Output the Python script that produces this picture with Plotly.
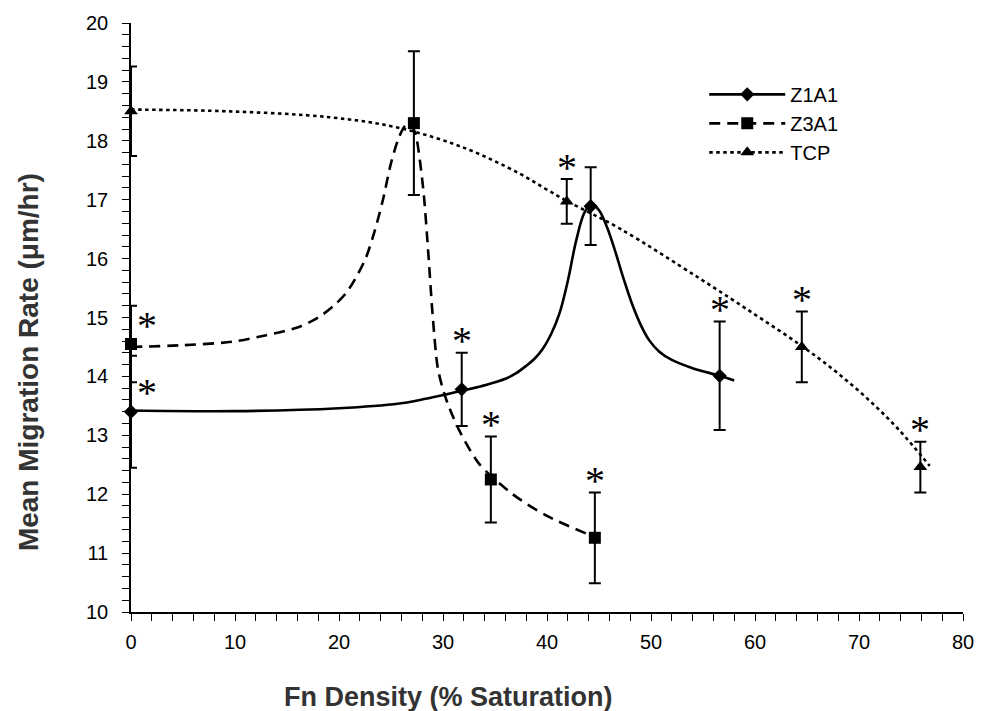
import plotly.graph_objects as go

# ---- measured data points (mean ± SD) ----
z1_x = [0, 31.8, 44.2, 56.6]
z1_y = [13.40, 13.78, 16.89, 14.01]
z1_err = [0.95, 0.62, 0.66, 0.92]

z3_x = [0, 27.2, 34.6, 44.6]
z3_y = [14.55, 18.30, 12.25, 11.26]
z3_err = [0.65, 1.22, 0.73, 0.77]

tcp_x = [0, 41.9, 64.5, 75.9]
tcp_y = [18.50, 16.97, 14.50, 12.46]
tcp_err = [0.76, 0.38, 0.60, 0.43]

# significance flags (asterisk shown)
z1_sig = [True, True, False, True]
z3_sig = [True, False, True, True]
tcp_sig = [False, True, True, True]

# ---- fitted trend curves ----
z1_cx = [0, 10, 20, 25.8, 27.8, 29.7, 31.9, 34.2, 36.0, 37.0, 38.0, 38.8, 39.6, 40.4,
         41.2, 42.0, 42.8, 43.6, 44.3, 45.0, 45.8, 46.6, 47.4, 48.2, 49.0, 49.8, 50.8,
         52.0, 54.0, 56.6, 58.0]
z1_cy = [13.42, 13.41, 13.46, 13.54, 13.60, 13.67, 13.76, 13.86, 13.96, 14.05, 14.18,
         14.30, 14.47, 14.72, 15.07, 15.62, 16.30, 16.78, 16.92, 16.82, 16.52, 16.10,
         15.64, 15.22, 14.88, 14.62, 14.42, 14.28, 14.14, 14.01, 13.93]

z3_cx = [0, 5, 9.8, 13, 16.0, 18.0, 19.5, 20.7, 21.7, 22.6, 23.4, 24.2, 25.0, 25.7,
         26.3, 26.8, 27.1, 27.4, 28.1, 28.6, 29.0, 29.5, 30.1, 30.6, 31.6, 33.5, 36.7,
         39.9, 43.8]
z3_cy = [14.50, 14.53, 14.59, 14.70, 14.83, 15.00, 15.20, 15.42, 15.70, 16.02, 16.45,
         16.98, 17.62, 18.03, 18.24, 18.29, 18.22, 18.09, 17.18, 16.06, 15.05, 14.14,
         13.72, 13.47, 13.07, 12.51, 12.00, 11.64, 11.33]

tcp_cx = [0, 9.5, 19.1, 25.5, 31.9, 37.4, 39.9, 42, 47.0, 54.7, 60.0, 64.3, 67.5,
          70.7, 73.8, 76.8]
tcp_cy = [18.53, 18.50, 18.40, 18.23, 17.89, 17.44, 17.18, 16.97, 16.51, 15.66,
          15.05, 14.54, 14.12, 13.64, 13.10, 12.48]

names = ["Z1A1", "Z3A1", "TCP"]
symbols = ["diamond", "square", "triangle-up"]
msizes = [11, 12, 12]
dashes = ["solid", "11px,7px", "3.5px,3.5px"]
smooth = [1.0, 0.8, 1.0]

series = [
    (z1_x, z1_y, z1_err, z1_sig, z1_cx, z1_cy),
    (z3_x, z3_y, z3_err, z3_sig, z3_cx, z3_cy),
    (tcp_x, tcp_y, tcp_err, tcp_sig, tcp_cx, tcp_cy),
]

star_font = dict(family="Liberation Serif", size=40, color="black")

fig = go.Figure()
annotations = []
for i, (x, y, e, sig, cx, cy) in enumerate(series):
    fig.add_trace(go.Scatter(
        x=cx, y=cy, mode="lines", showlegend=False, hoverinfo="skip",
        line=dict(color="black", width=2.6, dash=dashes[i], shape="spline",
                  smoothing=smooth[i]),
    ))
    fig.add_trace(go.Scatter(
        x=x, y=y, mode="markers", showlegend=False, name=names[i], cliponaxis=False,
        marker=dict(symbol=symbols[i], size=msizes[i], color="black"),
        error_y=dict(type="data", array=e, visible=True, color="black",
                     thickness=2, width=6),
    ))
    # legend entry (line + marker)
    fig.add_trace(go.Scatter(
        x=[None], y=[None], mode="lines+markers", name=names[i],
        line=dict(color="black", width=2.6, dash=dashes[i]),
        marker=dict(symbol=symbols[i], size=msizes[i], color="black"),
    ))
    for xi, yi, ei, s in zip(x, y, e, sig):
        if not s:
            continue
        if xi == 0:
            annotations.append(dict(x=xi, y=yi, xref="x", yref="y", text="*",
                                    showarrow=False, xshift=16, yshift=19,
                                    yanchor="middle", font=star_font))
        else:
            annotations.append(dict(x=xi, y=yi + ei, xref="x", yref="y", text="*",
                                    showarrow=False, yshift=12, yanchor="middle",
                                    font=star_font))

annotations.append(dict(text="<b>Fn Density (% Saturation)</b>", xref="paper", yref="paper",
                        x=0.382, y=-0.145, showarrow=False, xanchor="center", yanchor="middle",
                        font=dict(family="Liberation Sans", size=27, color="#333333")))
annotations.append(dict(text="<b>Mean Migration Rate (μm/hr)</b>", xref="paper", yref="paper",
                        x=-0.124, y=0.424, showarrow=False, xanchor="center", yanchor="middle",
                        textangle=-90,
                        font=dict(family="Liberation Sans", size=28, color="#333333")))

axis_common = dict(
    showgrid=False, zeroline=False, showline=True, linecolor="black", linewidth=1.5,
    ticks="outside", ticklen=7, tickwidth=1.2, tickcolor="black",
    tickfont=dict(family="Liberation Sans", size=20, color="black"),
)

fig.update_layout(
    width=986, height=711, autosize=False,
    margin=dict(l=131, r=22, t=20, b=99),
    plot_bgcolor="white", paper_bgcolor="white",
    xaxis=dict(range=[0, 80], dtick=10, tick0=0,
               minor=dict(dtick=2, ticks="outside", ticklen=7, tickwidth=1.2, tickcolor="black"),
               ticklabelstandoff=4, **axis_common),
    yaxis=dict(range=[10, 20], dtick=1, tick0=10,
               minor=dict(dtick=0.2, ticks="outside", ticklen=7, tickwidth=1.2, tickcolor="black"),
               ticklabelstandoff=10, **axis_common),
    legend=dict(x=0.689, y=0.912, xanchor="left", yanchor="top",
                font=dict(family="Liberation Sans", size=20, color="black"),
                itemwidth=76, tracegroupgap=0, bgcolor="rgba(0,0,0,0)"),
    annotations=annotations,
)

fig.write_html("out.html")
